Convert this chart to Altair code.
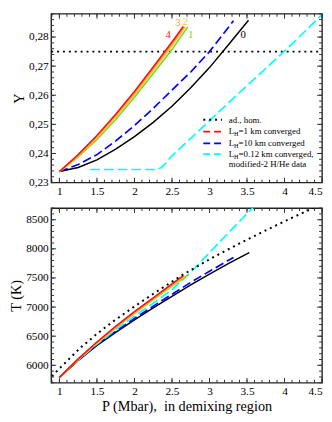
import altair as alt
import pandas as pd
import numpy as np

FONT = "Liberation Serif"

# ---------------- top panel: Y vs P ----------------
P_red = [1.0, 1.25, 1.5, 1.75, 2.0, 2.25, 2.5, 2.65]
Y_red = [0.2338, 0.2396, 0.2462, 0.2535, 0.2613, 0.2697, 0.2783, 0.2836]
P_orange = [1.0, 1.25, 1.5, 1.75, 2.0, 2.25, 2.5, 2.66]
Y_orange = [0.2338, 0.2394, 0.2459, 0.2531, 0.2609, 0.2692, 0.2777, 0.2836]
P_yellow = [1.0, 1.25, 1.5, 1.75, 2.0, 2.25, 2.5, 2.68]
Y_yellow = [0.2338, 0.2391, 0.2455, 0.2526, 0.2603, 0.2686, 0.2770, 0.2836]
P_green = [1.0, 1.25, 1.5, 1.75, 2.0, 2.25, 2.5, 2.71]
Y_green = [0.2338, 0.2388, 0.2448, 0.2517, 0.2593, 0.2675, 0.2757, 0.2835]
P_blue = [1.0, 1.25, 1.5, 1.75, 2.0, 2.25, 2.5, 2.75, 3.0, 3.32]
Y_blue = [0.2338, 0.2362, 0.2396, 0.2443, 0.2496, 0.2555, 0.2618, 0.2680, 0.2750, 0.2856]
P_black = [1.0, 1.25, 1.5, 1.75, 2.0, 2.25, 2.5, 2.75, 3.0, 3.25, 3.52]
Y_black = [0.2338, 0.2352, 0.2378, 0.2415, 0.2458, 0.2507, 0.2562, 0.2626, 0.2695, 0.2773, 0.2858]
P_cyan = [1.41, 2.3, 2.36, 2.42, 2.5, 2.75, 3.0, 3.25, 3.5, 3.75, 4.0, 4.25, 4.5]
Y_cyan = [0.2345, 0.2345, 0.2352, 0.2368, 0.2392, 0.2452, 0.2513, 0.2573, 0.2633, 0.2692, 0.2752, 0.2814, 0.2877]
P_hom = [0.89, 4.5]
Y_hom = [0.275, 0.275]

curve_labels = ["4", "3", "2", "1", "0"]
curve_label_P = [2.45, 2.58, 2.68, 2.75, 3.45]
curve_label_Y = [0.2806, 0.2849, 0.2851, 0.2806, 0.2806]
curve_label_colors = ["#FF2020", "#FFA030", "#FFC830", "#6FDC1E", "#000000"]

# ---------------- bottom panel: T vs P ----------------
T_red_P = [1.0, 1.25, 1.5, 1.75, 2.0, 2.25, 2.5, 2.65]
T_red = [5793, 6110, 6400, 6670, 6920, 7160, 7400, 7540]
T_orange_P = [1.0, 1.25, 1.5, 1.75, 2.0, 2.25, 2.5, 2.66]
T_orange = [5793, 6105, 6393, 6660, 6910, 7150, 7388, 7535]
T_yellow_P = [1.0, 1.25, 1.5, 1.75, 2.0, 2.25, 2.5, 2.68]
T_yellow = [5793, 6100, 6385, 6650, 6900, 7138, 7375, 7540]
T_green_P = [1.0, 1.25, 1.5, 1.75, 2.0, 2.25, 2.5, 2.71]
T_green = [5793, 6095, 6378, 6643, 6890, 7128, 7362, 7545]
T_blue_P = [1.0, 1.25, 1.5, 1.75, 2.0, 2.25, 2.5, 2.75, 3.0, 3.32]
T_blue = [5793, 6090, 6350, 6585, 6805, 7015, 7220, 7425, 7615, 7852]
T_black_P = [1.0, 1.25, 1.5, 1.75, 2.0, 2.25, 2.5, 2.75, 3.0, 3.25, 3.53]
T_black = [5793, 6085, 6340, 6565, 6780, 6985, 7185, 7380, 7565, 7745, 7935]
T_cyan_P = [1.05, 1.25, 1.5, 1.75, 2.0, 2.25, 2.5, 2.75, 3.0, 3.25, 3.5, 3.62]
T_cyan = [5855, 6095, 6365, 6610, 6845, 7065, 7300, 7600, 7935, 8270, 8605, 8760]
T_hom_P = [0.9, 1.0, 1.28, 1.5, 1.71, 2.0, 2.3, 2.63, 3.04, 3.44, 3.77, 4.02, 4.28, 4.45]
T_hom = [5810, 5945, 6302, 6540, 6748, 7010, 7270, 7545, 7850, 8120, 8330, 8485, 8640, 8740]

# ---------------- ticks ----------------
x_major = [1, 1.5, 2, 2.5, 3, 3.5, 4, 4.5]
x_minor = [round(v, 1) for v in np.arange(0.9, 4.51, 0.1)]
y_major = [0.23, 0.24, 0.25, 0.26, 0.27, 0.28]
y_minor = [round(0.23 + 0.002 * i, 3) for i in range(30)]
T_major = [6000, 6500, 7000, 7500, 8000, 8500]
T_minor = list(range(5700, 8701, 100))

W = 276
H1 = 172
H2 = 178
MAJ = 5
MIN = 3
TICK_COLOR = "#333333"

xscale = alt.Scale(domain=[0.89, 4.5], nice=False, zero=False)
yscale = alt.Scale(domain=[0.23, 0.288], nice=False, zero=False)
tscale = alt.Scale(domain=[5700, 8700], nice=False, zero=False)

xaxis_top = alt.Axis(values=x_major, format="~g", title="", labelPadding=3)
xaxis_bot = alt.Axis(values=x_major, format="~g", title="P (Mbar),\u00a0 in demixing region",
                     labelPadding=3, titlePadding=3)
yaxis_top = alt.Axis(values=y_major, labelExpr="replace(format(datum.value, '.2f'), '.', ',')",
                     title="Y", labelPadding=3, titlePadding=2)
yaxis_bot = alt.Axis(values=T_major, format="d", title="T (K)", labelPadding=3, titlePadding=2)


def line(P, V, field, ys, xa, ya, color, width=1.5, dash=None):
    df = pd.DataFrame({"P": P, field: V})
    kw = dict(color=color, strokeWidth=width, clip=True)
    if dash is not None:
        kw["strokeDash"] = dash
        kw["strokeCap"] = "butt"
    return alt.Chart(df).mark_line(**kw).encode(
        x=alt.X("P:Q", scale=xscale, axis=xa),
        y=alt.Y(f"{field}:Q", scale=ys, axis=ya),
    )


def xticks(vals, length, H, xa):
    df = pd.DataFrame({"P": vals})
    b = alt.Chart(df).mark_rule(color=TICK_COLOR, strokeWidth=1).encode(
        x=alt.X("P:Q", scale=xscale, axis=xa), y=alt.value(H), y2=alt.value(H - length))
    t = alt.Chart(df).mark_rule(color=TICK_COLOR, strokeWidth=1).encode(
        x=alt.X("P:Q", scale=xscale, axis=xa), y=alt.value(0), y2=alt.value(length))
    return [b, t]


def yticks(vals, length, field, ys, ya):
    df = pd.DataFrame({field: vals})
    l = alt.Chart(df).mark_rule(color=TICK_COLOR, strokeWidth=1).encode(
        y=alt.Y(f"{field}:Q", scale=ys, axis=ya), x=alt.value(0), x2=alt.value(length))
    r = alt.Chart(df).mark_rule(color=TICK_COLOR, strokeWidth=1).encode(
        y=alt.Y(f"{field}:Q", scale=ys, axis=ya), x=alt.value(W), x2=alt.value(W - length))
    return [l, r]


one = pd.DataFrame({"a": [0]})


def leg_sample(y, color, dash, width=1.8):
    return alt.Chart(one).mark_rule(color=color, strokeWidth=width, strokeDash=dash,
                                    strokeCap="butt").encode(
        x=alt.value(W - 121), x2=alt.value(W - 102), y=alt.value(y))


def leg_text(x, y, txt, size=9, dy=0):
    return alt.Chart(one).mark_text(align="left", baseline="middle", font=FONT, fontSize=size,
                                    color="black", dy=dy).encode(
        x=alt.value(x), y=alt.value(y), text=alt.value(txt))


TX = W - 95


def leg_LH(y, rest):
    return [leg_text(TX, y, "L"), leg_text(TX + 5.4, y, "H", size=6.3, dy=2.5),
            leg_text(TX + 10.0, y, rest)]


yt = "Y"
top_layers = [
    line(P_hom, Y_hom, yt, yscale, xaxis_top, yaxis_top, "black", 2, [2, 4]),
    line(P_cyan, Y_cyan, yt, yscale, xaxis_top, yaxis_top, "#00FFFF", 1.7, [10, 4]),
    line(P_black, Y_black, yt, yscale, xaxis_top, yaxis_top, "black", 1.5),
    line(P_blue, Y_blue, yt, yscale, xaxis_top, yaxis_top, "#0000FF", 1.7, [9, 4]),
    line(P_green, Y_green, yt, yscale, xaxis_top, yaxis_top, "#6FDC1E", 1.6),
    line(P_yellow, Y_yellow, yt, yscale, xaxis_top, yaxis_top, "#FFC830", 1.6),
    line(P_orange, Y_orange, yt, yscale, xaxis_top, yaxis_top, "#FFA030", 1.6),
    line(P_red, Y_red, yt, yscale, xaxis_top, yaxis_top, "#FF1010", 1.6),
]
lab_df = pd.DataFrame({"P": curve_label_P, "Y": curve_label_Y, "lab": curve_labels,
                       "col": curve_label_colors})
top_layers.append(
    alt.Chart(lab_df).mark_text(font=FONT, fontSize=11, baseline="middle").encode(
        x=alt.X("P:Q", scale=xscale, axis=xaxis_top),
        y=alt.Y("Y:Q", scale=yscale, axis=yaxis_top),
        text="lab:N",
        color=alt.Color("col:N", scale=None),
    ))
top_layers += xticks(x_minor, MIN, H1, xaxis_top) + xticks(x_major, MAJ, H1, xaxis_top)
top_layers += yticks(y_minor, MIN, yt, yscale, yaxis_top) + yticks(y_major, MAJ, yt, yscale, yaxis_top)

ly = [108, 120, 132, 143, 153]
top_layers += [
    leg_sample(ly[0], "black", [2, 4], 2.2),
    leg_text(TX, ly[0], "ad., hom."),
    leg_sample(ly[1], "#FF1010", [7, 4]),
    leg_sample(ly[2], "#0000FF", [7, 4]),
    leg_sample(ly[3], "#00FFFF", [7, 4]),
]
top_layers += leg_LH(ly[1], "=1 km converged")
top_layers += leg_LH(ly[2], "=10 km converged")
top_layers += leg_LH(ly[3], "=0.12 km converged,")
top_layers.append(leg_text(TX, ly[4], "modified-2 H/He data"))

top = alt.layer(*top_layers).properties(width=W, height=H1)

tt = "T"
bot_layers = [
    line(T_black_P, T_black, tt, tscale, xaxis_bot, yaxis_bot, "black", 1.5),
    line(T_blue_P, T_blue, tt, tscale, xaxis_bot, yaxis_bot, "#0000FF", 1.7, [9, 4]),
    line(T_cyan_P, T_cyan, tt, tscale, xaxis_bot, yaxis_bot, "#00FFFF", 1.7, [10, 4]),
    line(T_green_P, T_green, tt, tscale, xaxis_bot, yaxis_bot, "#6FDC1E", 1.6),
    line(T_yellow_P, T_yellow, tt, tscale, xaxis_bot, yaxis_bot, "#FFC830", 1.6),
    line(T_orange_P, T_orange, tt, tscale, xaxis_bot, yaxis_bot, "#FFA030", 1.6),
    line(T_red_P, T_red, tt, tscale, xaxis_bot, yaxis_bot, "#FF1010", 1.6),
    line(T_hom_P, T_hom, tt, tscale, xaxis_bot, yaxis_bot, "black", 2, [2, 4]),
]
bot_layers += xticks(x_minor, MIN, H2, xaxis_bot) + xticks(x_major, MAJ, H2, xaxis_bot)
bot_layers += yticks(T_minor, MIN, tt, tscale, yaxis_bot) + yticks(T_major, MAJ, tt, tscale, yaxis_bot)

bottom = alt.layer(*bot_layers).properties(width=W, height=H2)

chart = alt.vconcat(top, bottom, spacing=26, bounds="flush").properties(
    padding=0
).configure_view(
    stroke="#222222", strokeWidth=1.4
).configure_axis(
    labelFont=FONT, titleFont=FONT, labelFontSize=11.5, titleFontSize=14.5,
    titleFontWeight="normal", labelColor="black", titleColor="black",
    grid=False, ticks=False, domain=False, tickSize=0,
)

chart.save("out.html", embed_options={"renderer": "svg", "actions": False})
